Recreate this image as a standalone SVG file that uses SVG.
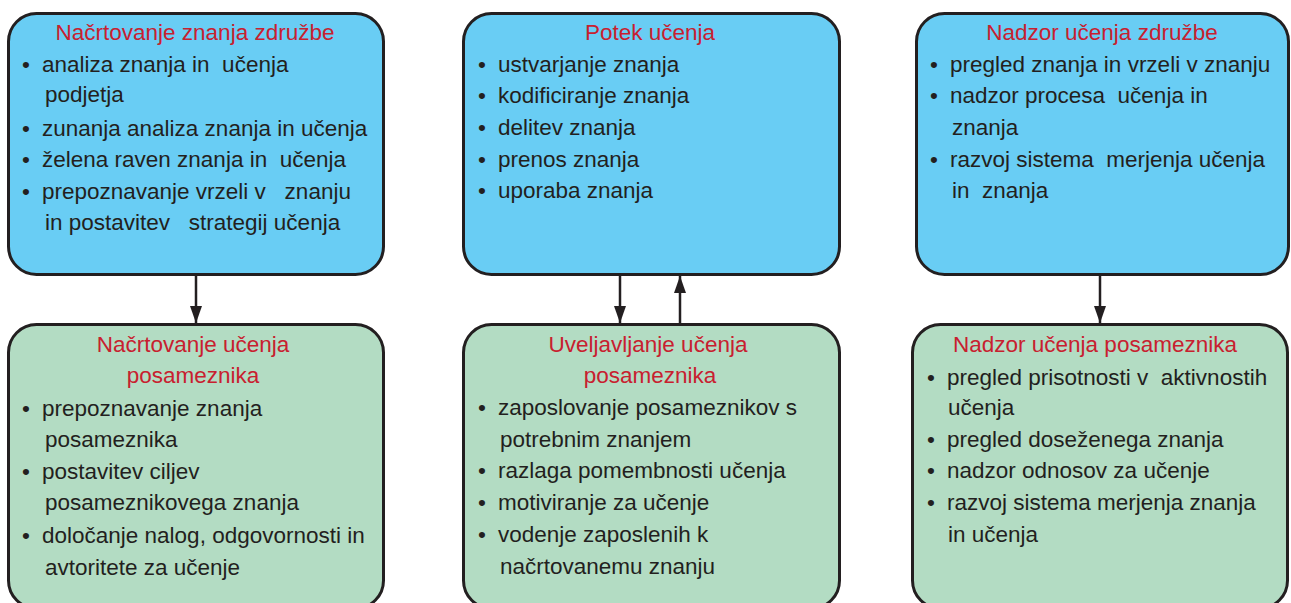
<svg xmlns="http://www.w3.org/2000/svg" width="1291" height="603" viewBox="0 0 1291 603">
<style>
.box{stroke:#231f20;stroke-width:3}
.blue{fill:#69cdf4}
.green{fill:#b3dcc3}
text{font-family:"Liberation Sans",Arial,sans-serif;font-size:22.5px;fill:#231f20;white-space:pre}
.t{fill:#c8202f;text-anchor:middle}
.ln{stroke:#231f20;stroke-width:2.5;fill:none}
</style>
<defs>
<marker id="ah" viewBox="0 0 17 12" refX="17" refY="6" markerWidth="17" markerHeight="12" markerUnits="userSpaceOnUse" orient="auto">
<path d="M0,0 L17,6 L0,12 Z" fill="#231f20"/>
</marker>
</defs>
<rect width="1291" height="603" fill="#fff"/>
<g id="connectors">
<line class="ln" x1="196" y1="275" x2="196" y2="323" marker-end="url(#ah)"/>
<line class="ln" x1="620" y1="275" x2="620" y2="323" marker-end="url(#ah)"/>
<line class="ln" x1="680" y1="323" x2="680" y2="276" marker-end="url(#ah)"/>
<line class="ln" x1="1100" y1="275" x2="1100" y2="323" marker-end="url(#ah)"/>
</g>
<g id="n1">
<rect class="box blue" x="8.5" y="13.5" width="375" height="261" rx="28"/>
<text class="t" x="195" y="40">Načrtovanje znanja združbe</text>
<text x="22" y="72">•</text><text x="42" y="72" xml:space="preserve">analiza znanja in  učenja</text>
<text x="45" y="102">podjetja</text>
<text x="22" y="136">•</text><text x="42" y="136">zunanja analiza znanja in učenja</text>
<text x="22" y="167">•</text><text x="42" y="167" xml:space="preserve">želena raven znanja in  učenja</text>
<text x="22" y="199">•</text><text x="42" y="199" xml:space="preserve">prepoznavanje vrzeli v   znanju</text>
<text x="45" y="230" xml:space="preserve">in postavitev   strategij učenja</text>
</g>
<g id="n2">
<rect class="box blue" x="463.5" y="13.5" width="376" height="261" rx="28"/>
<text class="t" x="650" y="40">Potek učenja</text>
<text x="478" y="72">•</text><text x="498" y="72">ustvarjanje znanja</text>
<text x="478" y="103">•</text><text x="498" y="103">kodificiranje znanja</text>
<text x="478" y="135">•</text><text x="498" y="135">delitev znanja</text>
<text x="478" y="167">•</text><text x="498" y="167">prenos znanja</text>
<text x="478" y="198">•</text><text x="498" y="198">uporaba znanja</text>
</g>
<g id="n3">
<rect class="box blue" x="916.5" y="13.5" width="372" height="261" rx="28"/>
<text class="t" x="1102" y="40">Nadzor učenja združbe</text>
<text x="930" y="72">•</text><text x="950" y="72">pregled znanja in vrzeli v znanju</text>
<text x="930" y="103">•</text><text x="950" y="103" xml:space="preserve">nadzor procesa  učenja in</text>
<text x="952" y="135">znanja</text>
<text x="930" y="167">•</text><text x="950" y="167" xml:space="preserve">razvoj sistema  merjenja učenja</text>
<text x="952" y="198" xml:space="preserve">in  znanja</text>
</g>
<g id="n4">
<rect class="box green" x="8.5" y="324.5" width="375" height="284" rx="28"/>
<text class="t" x="193" y="352">Načrtovanje učenja</text>
<text class="t" x="193" y="383">posameznika</text>
<text x="22" y="416">•</text><text x="42" y="416">prepoznavanje znanja</text>
<text x="45" y="447">posameznika</text>
<text x="22" y="479">•</text><text x="42" y="479">postavitev ciljev</text>
<text x="45" y="510">posameznikovega znanja</text>
<text x="22" y="543">•</text><text x="42" y="543">določanje nalog, odgovornosti in</text>
<text x="45" y="575">avtoritete za učenje</text>
</g>
<g id="n5">
<rect class="box green" x="463.5" y="324.5" width="376" height="284" rx="28"/>
<text class="t" x="648" y="352">Uveljavljanje učenja</text>
<text class="t" x="650" y="383">posameznika</text>
<text x="478" y="415">•</text><text x="498" y="415">zaposlovanje posameznikov s</text>
<text x="500" y="447">potrebnim znanjem</text>
<text x="478" y="478">•</text><text x="498" y="478">razlaga pomembnosti učenja</text>
<text x="478" y="510">•</text><text x="498" y="510">motiviranje za učenje</text>
<text x="478" y="542">•</text><text x="498" y="542">vodenje zaposlenih k</text>
<text x="500" y="574">načrtovanemu znanju</text>
</g>
<g id="n6">
<rect class="box green" x="912.5" y="324.5" width="375" height="284" rx="28"/>
<text class="t" x="1095" y="352">Nadzor učenja posameznika</text>
<text x="927" y="385">•</text><text x="947" y="385" xml:space="preserve">pregled prisotnosti v  aktivnostih</text>
<text x="948" y="415">učenja</text>
<text x="927" y="447">•</text><text x="947" y="447">pregled doseženega znanja</text>
<text x="927" y="478">•</text><text x="947" y="478">nadzor odnosov za učenje</text>
<text x="927" y="510">•</text><text x="947" y="510">razvoj sistema merjenja znanja</text>
<text x="948" y="542">in učenja</text>
</g>
</svg>
